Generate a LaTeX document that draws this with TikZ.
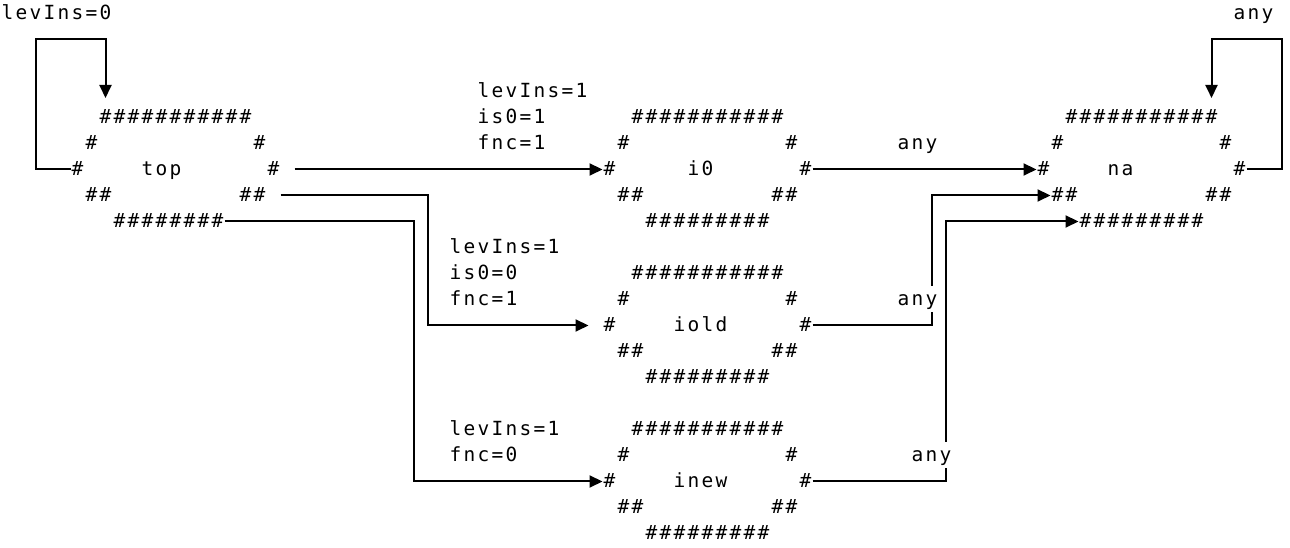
\documentclass[tikz,border=0pt]{standalone}
\usepackage{fontspec}
\newfontfamily\monof{DejaVu Sans Mono}
\usetikzlibrary{arrows.meta,calc}

\makeatletter
\newcommand\cells[1]{\cells@a#1\@nil}
\def\cells@a#1{\ifx#1\@nil\else\makebox[14pt]{#1}\expandafter\cells@a\fi}
\makeatother
\newcount\hcnt
\newcommand\hh[1]{\hcnt=#1\relax\loop\makebox[14pt]{\#}\advance\hcnt-1 \ifnum\hcnt>0 \repeat}

\tikzset{
  txt/.style={inner sep=0pt, outer sep=0pt, anchor=base west, text height=13pt, text depth=0pt,
              font=\monof\fontsize{19.5}{26}\selectfont},
  lab/.style={txt, fill=white, inner ysep=6.5pt},
  conn/.style={line width=2pt, -{Triangle[length=13pt,width=12pt]}}
}

% #1 name, #2 start column of top row, #3 top row, #4 label, #5 label column, #6 bottom count
\newcommand\ellbox[6]{%
  \node[txt] (#1-r0)  at ({#2-0.5},{#3+0.25}) {\hh{11}};
  \node[txt] (#1-r1l) at ({#2-1.5},{#3+1.25}) {\cells{\#}};
  \node[txt] (#1-r1r) at ({#2+10.5},{#3+1.25}) {\cells{\#}};
  \node[txt] (#1-w)   at ({#2-2.5},{#3+2.25}) {\cells{\#}};
  \node[txt] (#1-lab) at ({#5-0.5},{#3+2.25}) {\cells{#4}};
  \node[txt] (#1-e)   at ({#2+11.5},{#3+2.25}) {\cells{\#}};
  \node[txt] (#1-r3l) at ({#2-1.5},{#3+3.25}) {\hh{2}};
  \node[txt] (#1-r3r) at ({#2+9.5},{#3+3.25}) {\hh{2}};
  \node[txt] (#1-s)   at ({#2+0.5},{#3+4.25}) {\hh{#6}};
}

\begin{document}
\begin{tikzpicture}[x=14pt,y=-26pt]
\useasboundingbox[fill=white] (-0.5357,-0.519) rectangle (91.607,20.558);

% boxes
\ellbox{top}{7}{4}{top}{10}{8}
\ellbox{i0}{45}{4}{i0}{49}{9}
\ellbox{iold}{45}{10}{iold}{48}{9}
\ellbox{inew}{45}{16}{inew}{48}{9}
\ellbox{na}{76}{4}{na}{79}{9}

% connectors
\draw[conn, shorten >=13pt] (top-w.west) -| (2,1) -| ($(top-r0.north west)+(0.5,0)$);
\draw[conn, shorten <=14pt] (top-e.east) -- (i0-w.west);
\draw[conn, shorten <=14pt, shorten >=14pt] (top-r3r.east) -| (30,12) -- (iold-w.west);
\draw[conn] (top-s.east) -| (29,18) -- (inew-w.west);
\draw[conn] (i0-e.east) -- (na-w.west);
\draw[conn] (iold-e.east) -| (66,7) -- (na-r3l.west);
\draw[conn] (inew-e.east) -| (67,8) -- (na-s.west);
\draw[conn, shorten >=13pt] (na-e.east) -| (91,1) -| ($(na-r0.north east)+(-0.5,0)$);

% edge labels
\node[lab] (lab-top) at (-0.5,0.25) {\cells{levIns=0}};
\node[lab] (lab-na) at (87.5,0.25) {\cells{any}};
\node[lab] (lab-i0a) at (33.5,3.25) {\cells{levIns=1}};
\node[lab] (lab-i0b) at (33.5,4.25) {\cells{is0=1}};
\node[lab] (lab-i0c) at (33.5,5.25) {\cells{fnc=1}};
\node[lab] (lab-ioa) at (31.5,9.25) {\cells{levIns=1}};
\node[lab] (lab-iob) at (31.5,10.25) {\cells{is0=0}};
\node[lab] (lab-ioc) at (31.5,11.25) {\cells{fnc=1}};
\node[lab] (lab-ina) at (31.5,16.25) {\cells{levIns=1}};
\node[lab] (lab-inb) at (31.5,17.25) {\cells{fnc=0}};
\node[lab] (any1) at (63.5,5.25) {\cells{any}};
\node[lab] (any2) at (63.5,11.25) {\cells{any}};
\node[lab] (any3) at (64.5,17.25) {\cells{any}};
\end{tikzpicture}
\end{document}
